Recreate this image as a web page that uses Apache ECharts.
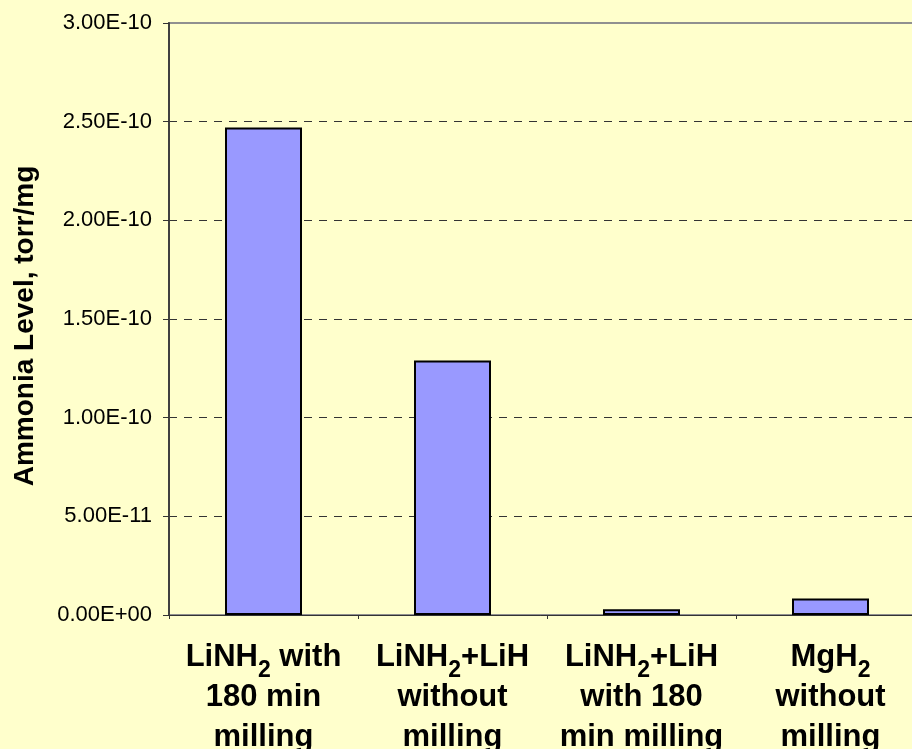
<!DOCTYPE html>
<html>
<head>
<meta charset="utf-8">
<script src="https://cdn.jsdelivr.net/npm/echarts@6/dist/echarts.min.js"></script>
<style>
    html, body { margin: 0; padding: 0; background: #FFFFCC; }
    #chart { width: 912px; height: 749px; }
</style>
</head>
<body>
<div id="chart"></div>
<script>
// 分类标签（rich 文本，{s|2} 为下标）
var categories = [
    '{t|LiNH}{s|2}{t| with}\n{t|180 min}\n{t|milling}',
    '{t|LiNH}{s|2}{t|+LiH}\n{t|without}\n{t|milling}',
    '{t|LiNH}{s|2}{t|+LiH}\n{t|with 180}\n{t|min milling}',
    '{t|MgH}{s|2}\n{t|without}\n{t|milling}'
];
var ammoniaLevel = [2.47e-10, 1.29e-10, 0.029e-10, 0.083e-10];
var yMin = 0;
var yMax = 3e-10;
var yStep = 5e-11;

function sciLabel(v) {
    var s = v.toExponential(2).toUpperCase();       // 3.00E-10
    var parts = s.split('E');
    var exp = parseInt(parts[1], 10);
    var sign = exp < 0 ? '-' : '+';
    var e = Math.abs(exp);
    return parts[0] + 'E' + sign + (e < 10 ? '0' + e : e);
}

var chart = echarts.init(document.getElementById('chart'));
var fontFam = 'Arial, "Liberation Sans", sans-serif';

var option = {
    backgroundColor: '#FFFFCC',
    animation: false,
    grid: {
        left: 169,
        right: -13,
        top: 23,
        bottom: 134,
        outerBoundsMode: 'none',
        containLabel: false,
        show: true,
        borderColor: '#909090',
        borderWidth: 2,
        backgroundColor: 'transparent'
    },
    xAxis: {
        type: 'category',
        data: categories,
        axisLine: { lineStyle: { color: '#333', width: 1 } },
        axisTick: { show: true, length: 4, lineStyle: { color: '#333' } },
        axisLabel: {
            margin: 27,
            interval: 0,
            color: '#000',
            fontFamily: fontFam,
            rich: {
                t: { fontSize: 31, fontWeight: 'bold', fontFamily: fontFam, color: '#000', lineHeight: 40, verticalAlign: 'top' },
                s: { fontSize: 23, fontWeight: 'bold', fontFamily: fontFam, color: '#000', lineHeight: 40, verticalAlign: 'bottom' }
            }
        }
    },
    yAxis: {
        type: 'value',
        min: yMin,
        max: yMax,
        interval: yStep,
        name: 'Ammonia Level, torr/mg',
        nameLocation: 'middle',
        nameRotate: 90,
        nameGap: 130,
        nameTextStyle: { fontSize: 28, fontWeight: 'bold', fontFamily: fontFam, color: '#000', padding: [0, 14, 0, 0] },
        axisLine: { show: true, lineStyle: { color: '#404040', width: 2 } },
        axisTick: { show: true, length: 6, lineStyle: { color: '#333' } },
        axisLabel: {
            margin: 17,
            fontSize: 22,
            fontFamily: fontFam,
            color: '#000',
            formatter: sciLabel
        },
        splitLine: {
            show: true,
            showMaxLine: false,
            lineStyle: { color: '#333', width: 1, type: [8, 7] }
        }
    },
    series: [{
        name: 'Ammonia Level',
        type: 'bar',
        data: ammoniaLevel,
        barWidth: 77,
        itemStyle: {
            color: '#9999FF',
            borderColor: '#000',
            borderWidth: 2
        }
    }]
};
chart.setOption(option);
</script>
</body>
</html>
